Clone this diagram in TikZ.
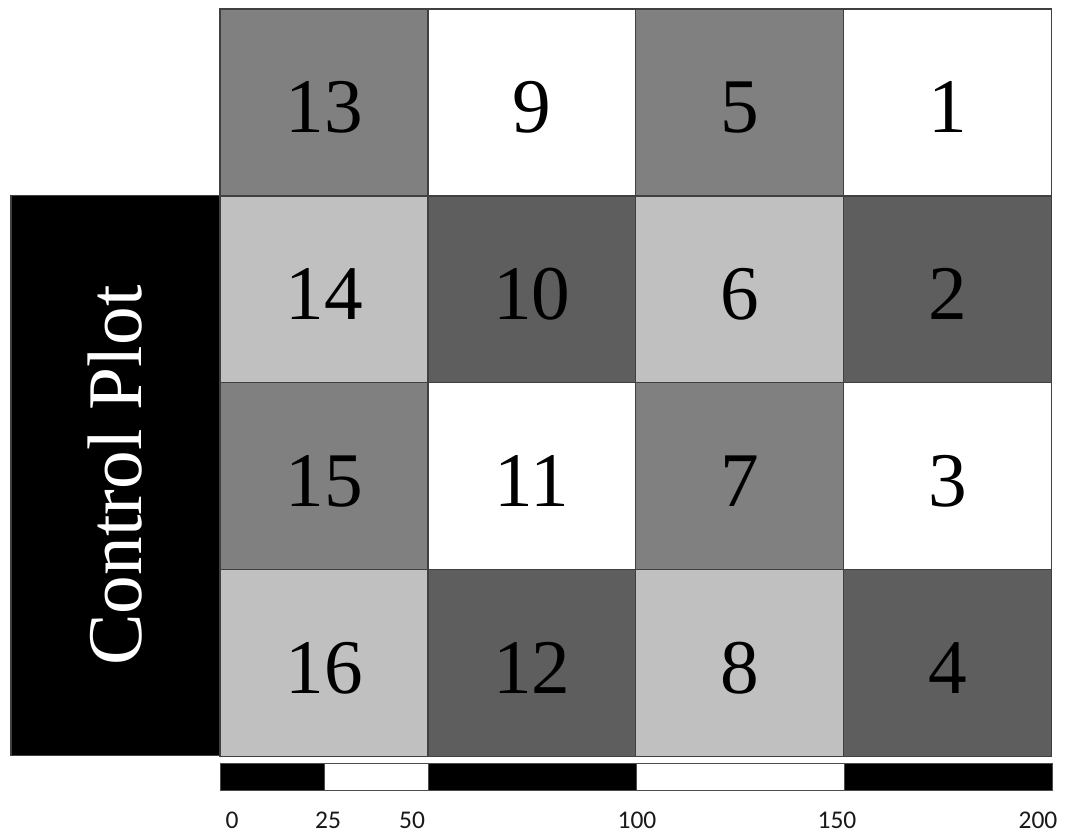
\documentclass[tikz,border=0pt]{standalone}
\usepackage{fontspec}
\setmainfont{Liberation Serif}
\newfontfamily\barfont{Carlito}
\usetikzlibrary{positioning}

\definecolor{plotmid}{RGB}{128,128,128}
\definecolor{plotlight}{RGB}{192,192,192}
\definecolor{plotdark}{RGB}{94,94,94}

\begin{document}
\begin{tikzpicture}[x=0.02cm, y=-0.02cm,
		plotcell/.style={draw=black!75, line width=0.6pt, inner sep=0pt, outer sep=0pt,
			minimum width=4.16cm, minimum height=3.74cm, text height=1.2cm, text depth=0pt,
			font=\fontsize{44}{44}\selectfont},
		barlabel/.style={font=\barfont\fontsize{14.5}{15}\selectfont, text=black!90}]
	\useasboundingbox (0,0) rectangle (1083,832);
	
	% Versuchsparzellen
	\node[plotcell, fill=plotmid]   (p13) at (324,102.5) {13};
	\node[plotcell, fill=white]     (p9)  [right=0pt of p13] {9};
	\node[plotcell, fill=plotmid]   (p5)  [right=0pt of p9] {5};
	\node[plotcell, fill=white]     (p1)  [right=0pt of p5] {1};
	
	\node[plotcell, fill=plotlight] (p14) [below=0pt of p13] {14};
	\node[plotcell, fill=plotdark]  (p10) [right=0pt of p14] {10};
	\node[plotcell, fill=plotlight] (p6)  [right=0pt of p10] {6};
	\node[plotcell, fill=plotdark]  (p2)  [right=0pt of p6] {2};
	
	\node[plotcell, fill=plotmid]   (p15) [below=0pt of p14] {15};
	\node[plotcell, fill=white]     (p11) [right=0pt of p15] {11};
	\node[plotcell, fill=plotmid]   (p7)  [right=0pt of p11] {7};
	\node[plotcell, fill=white]     (p3)  [right=0pt of p7] {3};
	
	\node[plotcell, fill=plotlight] (p16) [below=0pt of p15] {16};
	\node[plotcell, fill=plotdark]  (p12) [right=0pt of p16] {12};
	\node[plotcell, fill=plotlight] (p8)  [right=0pt of p12] {8};
	\node[plotcell, fill=plotdark]  (p4)  [right=0pt of p8] {4};
	
	% Kontrollparzelle
	\node[draw=black!75, line width=0.6pt, fill=black, text=white, rotate=90, inner sep=0pt,
		minimum width=11.22cm, minimum height=4.18cm, font=\fontsize{44}{44}\selectfont]
		(control) at (115.5,475.5) {Control Plot};
	
	% Massstab
	\begin{scope}[draw=black!70, line width=0.5pt]
		\draw[fill=black] (220,763) rectangle (324,790);
		\draw[fill=white] (324,763) rectangle (428,790);
		\draw[fill=black] (428,763) rectangle (636,790);
		\draw[fill=white] (636,763) rectangle (844,790);
		\draw[fill=black] (844,763) rectangle (1052,790);
	\end{scope}
	\node[barlabel] (l0)   at (232,820) {0};
	\node[barlabel] (l25)  at (328,820) {25};
	\node[barlabel] (l50)  at (412,820) {50};
	\node[barlabel] (l100) at (637,820) {100};
	\node[barlabel] (l150) at (837,820) {150};
	\node[barlabel] (l200) at (1038,820) {200};
\end{tikzpicture}
\end{document}
